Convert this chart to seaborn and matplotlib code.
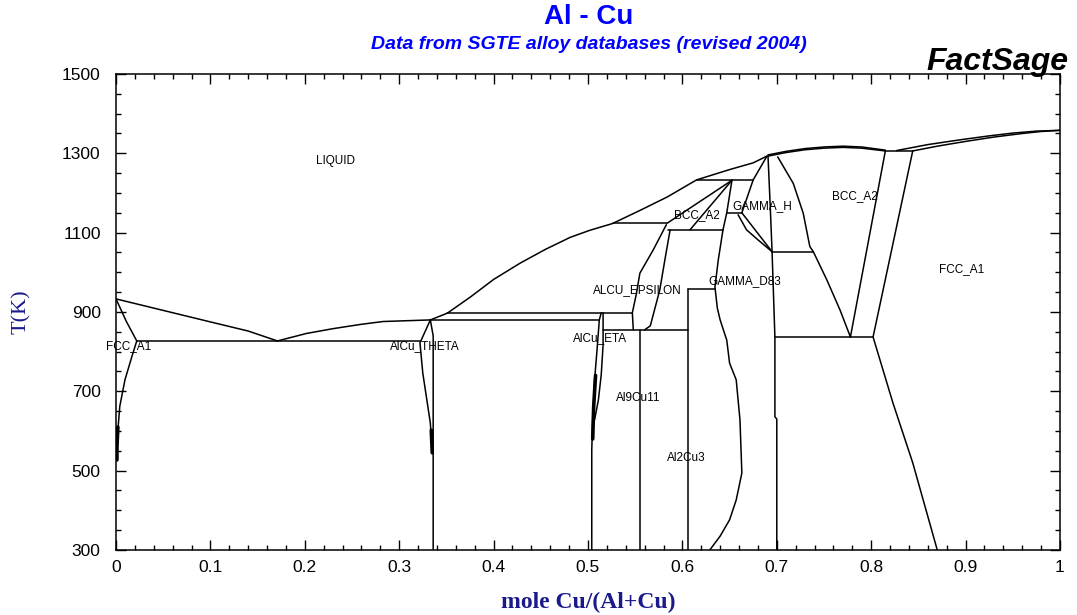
import matplotlib
matplotlib.use("Agg")
import matplotlib.pyplot as plt
from matplotlib.ticker import MultipleLocator, FixedLocator, FuncFormatter
import pandas as pd
import seaborn as sns

# ---- Phase boundaries: mole fraction Cu (x) vs temperature in K (T) ----
liq_al_x = [0.0, 0.05, 0.10, 0.14, 0.171]
liq_al_T = [933, 904, 875, 852, 827]
liq_theta_x = [0.171, 0.202, 0.230, 0.260, 0.283, 0.333]
liq_theta_T = [827, 846, 858, 869, 876, 880]
liq_mid_x = [0.333, 0.351, 0.375, 0.40, 0.428, 0.455, 0.481, 0.502, 0.526, 0.555, 0.584, 0.615,
             0.650, 0.675, 0.6896]
liq_mid_T = [880, 897, 937, 982, 1023, 1058, 1088, 1106, 1123, 1156, 1190, 1233,
             1259, 1276, 1293]
liq_bcc_x = [0.6907, 0.71, 0.73, 0.75, 0.77, 0.79, 0.815]
liq_bcc_T = [1296, 1305, 1312, 1316, 1318, 1316, 1308]
sol_bcc_x = [0.6907, 0.71, 0.73, 0.75, 0.77, 0.79, 0.815]
sol_bcc_T = [1293, 1302, 1309, 1313, 1315, 1313, 1306]
liq_fcc_x = [0.827, 0.86, 0.894, 0.925, 0.95, 0.975, 1.0]
liq_fcc_T = [1307, 1322, 1334, 1344, 1351, 1356, 1358]
sol_fcc_x = [0.844, 0.87, 0.90, 0.93, 0.96, 0.98, 1.0]
sol_fcc_T = [1306, 1318, 1330, 1341, 1350, 1355, 1358]

fcc_al_sol_x = [0.0, 0.011, 0.022]
fcc_al_sol_T = [933, 876, 827]
fcc_al_solvus_x = [0.022, 0.017, 0.0095, 0.004, 0.002, 0.001]
fcc_al_solvus_T = [827, 789, 729, 662, 602, 527]

theta_left_x = [0.333, 0.322, 0.325, 0.333, 0.335]
theta_left_T = [880, 822, 746, 620, 545]
theta_right_x = [0.333, 0.336, 0.336]
theta_right_T = [880, 840, 300]

eta_left_x = [0.514, 0.512, 0.510, 0.507, 0.505, 0.504, 0.504]
eta_left_T = [898, 880, 817, 729, 628, 552, 300]
eta_right_x = [0.516, 0.516, 0.514, 0.511, 0.507]
eta_right_T = [898, 817, 741, 678, 628]

eps_left_x = [0.548, 0.547, 0.551, 0.555, 0.569, 0.583]
eps_left_T = [855, 898, 943, 998, 1056, 1120]
eps_right_x = [0.560, 0.566, 0.576, 0.582, 0.587]
eps_right_T = [855, 865, 955, 1039, 1107]

al9cu11_x = [0.555, 0.555]
al9cu11_T = [855, 300]
al2cu3_x = [0.606, 0.606]
al2cu3_T = [958, 300]

bcc_hi_left_x = [0.584, 0.6525]
bcc_hi_left_T = [1124, 1232]
bcc_hi_low_x = [0.608, 0.6525]
bcc_hi_low_T = [1107, 1232]
gamma_h_left_x = [0.6525, 0.647, 0.643]
gamma_h_left_T = [1232, 1150, 1107]
gamma_h_top_x = [0.6896, 0.675, 0.663]
gamma_h_top_T = [1293, 1233, 1150]
gamma_fan1_x = [0.663, 0.695]
gamma_fan1_T = [1150, 1052]
gamma_fan2_x = [0.659, 0.668, 0.680, 0.695]
gamma_fan2_T = [1145, 1107, 1082, 1052]
gamma_right_x = [0.6907, 0.693, 0.695, 0.698, 0.698, 0.700, 0.700]
gamma_right_T = [1293, 1170, 1052, 837, 636, 630, 300]
gamma_d83_left_x = [0.643, 0.638, 0.6345, 0.637, 0.640, 0.647, 0.650, 0.657, 0.661, 0.663, 0.657,
                    0.650, 0.640, 0.629]
gamma_d83_left_T = [1107, 1031, 963, 910, 880, 829, 771, 729, 628, 494, 426, 376, 335, 300]

bcc_left_x = [0.701, 0.7175, 0.728, 0.735, 0.7387, 0.753, 0.767, 0.778]
bcc_left_T = [1291, 1224, 1149, 1065, 1052, 981, 905, 837]
bcc_right_x = [0.815, 0.778]
bcc_right_T = [1306, 837]
fcc_cu_left_x = [0.844, 0.802, 0.823, 0.844, 0.870]
fcc_cu_left_T = [1306, 837, 671, 520, 300]

# invariant (horizontal) lines: x from, x to, temperature
inv_x0 = [0.022, 0.333, 0.351, 0.516, 0.526, 0.585, 0.615, 0.647, 0.695, 0.6055, 0.698, 0.815]
inv_x1 = [0.322, 0.512, 0.547, 0.606, 0.584, 0.643, 0.675, 0.663, 0.738, 0.6345, 0.802, 0.844]
inv_T = [827, 880, 898, 855, 1124, 1107, 1234, 1150, 1052, 958, 837, 1307]

# two-phase regions so narrow their boundaries merge into a heavy stroke
heavy_x = [[0.002, 0.001, 0.001], [0.334, 0.335], [0.508, 0.506, 0.505]]
heavy_T = [[610, 560, 527], [602, 545], [740, 660, 580]]

# phase field labels
lab_text = ["LIQUID", "FCC_A1", "AlCu_THETA", "AlCu_ETA", "ALCU_EPSILON", "Al9Cu11",
            "Al2Cu3", "GAMMA_D83", "BCC_A2", "GAMMA_H", "BCC_A2", "FCC_A1"]
lab_x = [0.233, 0.013, 0.327, 0.513, 0.552, 0.553, 0.604, 0.666, 0.615, 0.685, 0.783, 0.896]
lab_T = [1281, 814, 814, 834, 955, 683, 532, 978, 1145, 1167, 1192, 1008]

y_ticks = [300, 500, 700, 900, 1100, 1300, 1500]

curves = [
    (liq_al_x, liq_al_T), (liq_theta_x, liq_theta_T), (liq_mid_x, liq_mid_T),
    (liq_bcc_x, liq_bcc_T), (sol_bcc_x, sol_bcc_T), (liq_fcc_x, liq_fcc_T), (sol_fcc_x, sol_fcc_T),
    (fcc_al_sol_x, fcc_al_sol_T), (fcc_al_solvus_x, fcc_al_solvus_T),
    (theta_left_x, theta_left_T), (theta_right_x, theta_right_T),
    (eta_left_x, eta_left_T), (eta_right_x, eta_right_T),
    (eps_left_x, eps_left_T), (eps_right_x, eps_right_T),
    (al9cu11_x, al9cu11_T), (al2cu3_x, al2cu3_T),
    (bcc_hi_left_x, bcc_hi_left_T), (bcc_hi_low_x, bcc_hi_low_T),
    (gamma_h_left_x, gamma_h_left_T), (gamma_h_top_x, gamma_h_top_T),
    (gamma_fan1_x, gamma_fan1_T), (gamma_fan2_x, gamma_fan2_T),
    (gamma_right_x, gamma_right_T), (gamma_d83_left_x, gamma_d83_left_T),
    (bcc_left_x, bcc_left_T), (bcc_right_x, bcc_right_T), (fcc_cu_left_x, fcc_cu_left_T),
]
for a, b, t in zip(inv_x0, inv_x1, inv_T):
    curves.append(([a, b], [t, t]))


def to_frame(segments):
    rows = []
    for i, (xs, ts) in enumerate(segments):
        for xv, tv in zip(xs, ts):
            rows.append({"seg": i, "x": xv, "T": tv})
    return pd.DataFrame(rows)


lines = to_frame(curves)
heavy = to_frame(list(zip(heavy_x, heavy_T)))

sns.set_style("ticks")
plt.rcParams["font.family"] = ["Liberation Sans", "DejaVu Sans"]

fig = plt.figure(figsize=(10.77, 6.15), dpi=100)
ax = fig.add_axes([0.1077, 0.1057, 0.8765, 0.774])

sns.lineplot(data=lines, x="x", y="T", units="seg", estimator=None, sort=False,
             color="black", linewidth=1.1, ax=ax, legend=False)
sns.lineplot(data=heavy, x="x", y="T", units="seg", estimator=None, sort=False,
             color="black", linewidth=2.6, ax=ax, legend=False)

for s, xv, tv in zip(lab_text, lab_x, lab_T):
    ax.text(xv, tv, s, fontsize=8.5, ha="center", va="center", color="black")

ax.set_xlim(0, 1)
ax.set_ylim(300, 1500)
ax.xaxis.set_major_locator(MultipleLocator(0.1))
ax.xaxis.set_minor_locator(MultipleLocator(0.02))
ax.yaxis.set_major_locator(FixedLocator(y_ticks))
ax.yaxis.set_minor_locator(MultipleLocator(50))
ax.xaxis.set_major_formatter(FuncFormatter(lambda v, p: f"{v:g}"))
ax.yaxis.set_major_formatter(FuncFormatter(lambda v, p: f"{v:g}"))
ax.tick_params(which="both", direction="in", top=True, right=True, width=1, colors="black")
ax.tick_params(which="major", length=7, labelsize=12.5)
ax.tick_params(axis="y", which="major", pad=11)
ax.tick_params(axis="x", which="major", pad=7)
ax.tick_params(which="minor", length=3.5)
for sp in ax.spines.values():
    sp.set_visible(True)
    sp.set_linewidth(1.1)
    sp.set_color("black")

ax.set_xlabel("mole Cu/(Al+Cu)", family=["Liberation Serif", "DejaVu Serif"], fontsize=17,
              fontweight="bold", color="#1a1a8a", labelpad=12)
ax.set_ylabel("T(K)", family=["Liberation Serif", "DejaVu Serif"], fontsize=16,
              color="#1a1a8a", labelpad=22)

fig.text(0.547, 0.972, "Al - Cu", ha="center", va="center", fontsize=20,
         fontweight="bold", color="#0000ff")
fig.text(0.547, 0.927, "Data from SGTE alloy databases (revised 2004)", ha="center",
         va="center", fontsize=14, fontweight="bold", style="italic", color="#0000ff")
fig.text(0.992, 0.899, "FactSage", ha="right", va="center", fontsize=23,
         fontweight="bold", style="italic", color="black")

fig.savefig("out.png", dpi=100)
